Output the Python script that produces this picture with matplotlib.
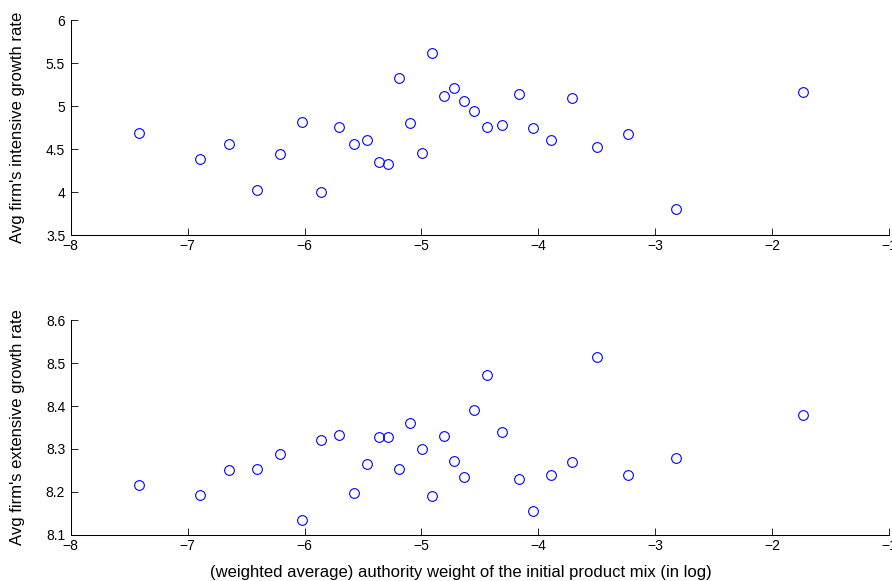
import numpy as np
import matplotlib
matplotlib.use("Agg")
import matplotlib.pyplot as plt

# log authority weight of initial product mix (shared x for both panels)
log_weight = [-7.42, -6.89, -6.645, -6.408, -6.208, -6.022, -5.860, -5.709, -5.577, -5.466,
              -5.363, -5.286, -5.192, -5.095, -4.998, -4.907, -4.810, -4.724, -4.633, -4.547,
              -4.442, -4.310, -4.168, -4.045, -3.888, -3.711, -3.497, -3.229, -2.826, -1.733]

intensive = [4.692, 4.380, 4.557, 4.021, 4.441, 4.819, 4.001, 4.758, 4.557, 4.607,
             4.353, 4.322, 5.329, 4.808, 4.457, 5.622, 5.117, 5.213, 5.063, 4.947,
             4.753, 4.781, 5.140, 4.750, 4.600, 5.089, 4.527, 4.669, 3.801, 5.163]

extensive = [8.217, 8.192, 8.251, 8.254, 8.288, 8.135, 8.322, 8.332, 8.198, 8.264,
             8.327, 8.327, 8.253, 8.360, 8.299, 8.191, 8.331, 8.272, 8.236, 8.390,
             8.472, 8.340, 8.230, 8.155, 8.240, 8.270, 8.513, 8.240, 8.278, 8.378]

xticks = [-8, -7, -6, -5, -4, -3, -2, -1]
top_yticks = [3.5, 4, 4.5, 5, 5.5, 6]
bot_yticks = [8.1, 8.2, 8.3, 8.4, 8.5, 8.6]

plt.rcParams['font.family'] = ['Liberation Sans', 'DejaVu Sans']
plt.rcParams['axes.unicode_minus'] = True

fig = plt.figure(figsize=(8.92, 5.81), dpi=100)
ax1 = fig.add_axes([0.0793, 0.5955, 0.9173, 0.370])
ax2 = fig.add_axes([0.0793, 0.0792, 0.9173, 0.370])

panels = [
    (ax1, intensive, top_yticks, "Avg firm's intensive growth rate"),
    (ax2, extensive, bot_yticks, "Avg firm's extensive growth rate"),
]

for ax, vals, yt, ylab in panels:
    ax.plot(log_weight, vals, 'o', mfc='none', mec='#0000ff', ms=7, mew=0.8)
    ax.set_xlim(-8, -1)
    ax.set_ylim(yt[0], yt[-1])
    ax.set_xticks(xticks)
    ax.set_yticks(yt)
    ax.set_yticklabels([f"{v:g}" for v in yt])
    ax.spines['top'].set_visible(False)
    ax.spines['right'].set_visible(False)
    for s in ['left', 'bottom']:
        ax.spines[s].set_linewidth(0.75)
    ax.tick_params(direction='in', length=5, width=0.6, labelsize=10)
    ax.tick_params(axis='x', pad=3)
    ax.tick_params(axis='y', pad=4)
    ax.set_ylabel(ylab, fontsize=12)
    ax.yaxis.set_label_coords(-0.056, 0.5)

ax2.set_xlabel("(weighted average) authority weight of the initial product mix (in log)",
               fontsize=12)
ax2.xaxis.set_label_coords(0.477, -0.138)

fig.savefig("out.png", dpi=100)
